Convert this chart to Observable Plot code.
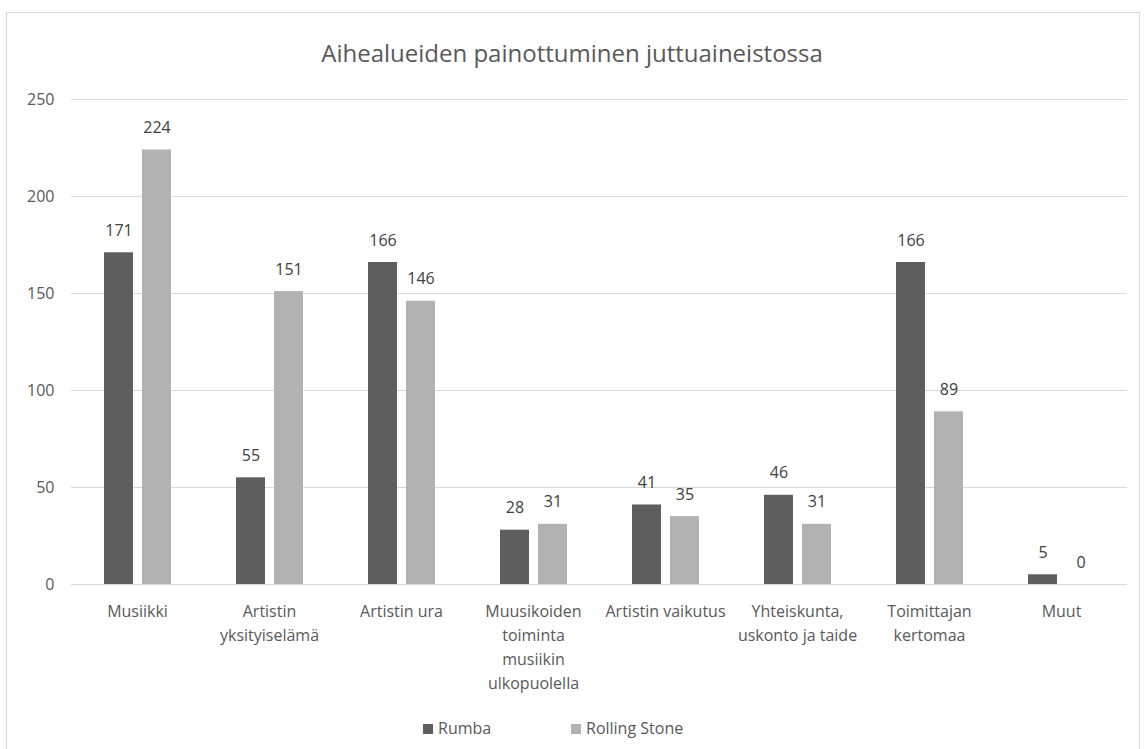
<!DOCTYPE html>
<html><head><meta charset="utf-8">
<script src="https://cdn.jsdelivr.net/npm/d3@7"></script>
<script src="https://cdn.jsdelivr.net/npm/@observablehq/plot@0.6"></script>
<style>
body{margin:0;background:#fff;font-family:"Open Sans",sans-serif;overflow:hidden;}
#frame{position:absolute;left:6px;top:12px;width:1134px;height:760px;border:1px solid #d9d9d9;box-sizing:border-box;}
#title{position:absolute;left:0;width:1144px;top:36px;line-height:34px;text-align:center;font-size:24px;color:#595959;}
#chart{position:absolute;left:0;top:80px;}
#legend{position:absolute;top:717px;left:0;width:1144px;font-size:16px;line-height:22px;color:#595959;}
.sw{display:inline-block;width:10px;height:10px;margin-right:5px;vertical-align:0px;}
.item{position:absolute;white-space:nowrap;}
</style></head><body>
<div id="frame"></div>
<div id="title">Aihealueiden painottuminen juttuaineistossa</div>
<div id="chart"></div>
<div id="legend"></div>
<script>
const categories = ["Musiikki","Artistin yksityiselämä","Artistin ura","Muusikoiden toiminta musiikin ulkopuolella","Artistin vaikutus","Yhteiskunta, uskonto ja taide","Toimittajan kertomaa","Muut"];
const tickLabels = ["Musiikki","Artistin\nyksityiselämä","Artistin ura","Muusikoiden\ntoiminta\nmusiikin\nulkopuolella","Artistin vaikutus","Yhteiskunta,\nuskonto ja taide","Toimittajan\nkertomaa","Muut"];
const series = ["Rumba","Rolling Stone"];
const rumba = [171,55,166,28,41,46,166,5];
const rollingStone = [224,151,146,31,35,31,89,0];
const colors = ["#5e5e5e","#b2b2b2"];
const yTicks = [0,50,100,150,200,250];

const data = [];
categories.forEach((c,i)=>{
  data.push({cat:c, series:series[0], value:rumba[i]});
  data.push({cat:c, series:series[1], value:rollingStone[i]});
});
const labelOf = new Map(categories.map((c,i)=>[c,tickLabels[i]]));

const chart = Plot.plot({
  width:1144, height:620,
  marginLeft:69, marginRight:16, marginTop:19, marginBottom:116,
  style:{fontFamily:"Open Sans, sans-serif", fontSize:"16px", color:"#595959", background:"transparent"},
  fx:{domain:categories, padding:0, label:null},
  x:{domain:series, axis:null, paddingInner:0.237, paddingOuter:0.855},
  y:{domain:[0,250], label:null},
  color:{domain:series, range:colors},
  marks:[
    Plot.gridY(yTicks,{stroke:"#d9d9d9", strokeOpacity:1}),
    Plot.axisY(yTicks,{tickSize:0, tickPadding:17, fontSize:16, label:null}),
    Plot.axisFx({anchor:"bottom", tickSize:0, tickPadding:15, fontSize:16, lineHeight:1.5, label:null, tickFormat:d=>labelOf.get(d)}),
    Plot.barY(data,{fx:"cat", x:"series", y:"value", fill:"series"}),
    Plot.ruleY([0],{stroke:"#d9d9d9"}),
    Plot.text(data,{fx:"cat", x:"series", y:"value", text:d=>String(d.value), dy:-22, fill:"#404040", fontSize:16})
  ]
});
document.getElementById("chart").appendChild(chart);

const legend = document.getElementById("legend");
const lx = [423, 571];
series.forEach((s,i)=>{
  const it = document.createElement("div");
  it.className="item"; it.style.left=lx[i]+"px";
  it.innerHTML = `<span class="sw" style="background:${colors[i]}"></span>${s}`;
  legend.appendChild(it);
});
</script>
</body></html>
